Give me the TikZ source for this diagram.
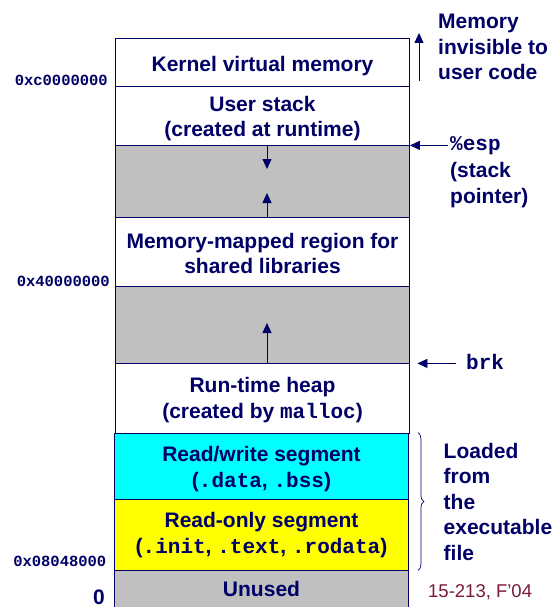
\documentclass[tikz,border=0pt]{standalone}
\usepackage{fontspec}
\setmainfont{Liberation Sans}
\setmonofont{Liberation Mono}
\usetikzlibrary{arrows.meta,decorations.pathreplacing}

\definecolor{memnavy}{RGB}{0,0,102}
\definecolor{gapgray}{RGB}{192,192,192}
\definecolor{segcyan}{RGB}{0,255,255}
\definecolor{segyellow}{RGB}{255,255,0}
\definecolor{coursered}{RGB}{122,24,64}

\tikzset{
  region/.style={draw=memnavy, line width=0.8pt, minimum width=294pt, inner sep=0pt, align=center, text height=45pt},
  hole/.style={region, fill=gapgray},
  growarrow/.style={draw=memnavy, line width=0.8pt, -{Triangle[length=10pt,width=9pt]}},
  note/.style={anchor=west, align=left, inner sep=0pt},
  addr/.style={anchor=base east, inner sep=0pt, font=\fontsize{15.5}{18}\selectfont\bfseries\ttfamily},
}

\begin{document}
\begin{tikzpicture}[x=1pt, y=-1pt, font=\fontsize{21}{25.5}\selectfont\bfseries, text=memnavy]
            \useasboundingbox (0,0) rectangle (555,607);
            \clip (0,0) rectangle (555,607);
            % address space, top to bottom
            \node [region, minimum height=48pt, text height=24pt] (kernel) at (262.5,62.0) {Kernel virtual memory};
            \node [region, minimum height=59pt, text height=47pt] (ustack) at (262.5,115.5) {User stack\\(created at runtime)};
            \node [hole,   minimum height=72pt] (stackgap) at (262.5,181.0) {};
            \node [region, minimum height=69pt] (mmap)     at (262.5,251.5) {Memory-mapped region for\\shared libraries};
            \node [hole,   minimum height=77pt] (heapgap)  at (262.5,324.5) {};
            \node [region, minimum height=70pt] (heap)     at (262.5,398.0) {Run-time heap\\(created by \texttt{malloc})};
            \node [region, fill=segcyan,   minimum height=66pt, text height=47pt] (rwseg) at (261.5,466.0) {Read/write segment\\(\texttt{.data}, \texttt{.bss})};
            \node [region, fill=segyellow, minimum height=71pt, text height=42pt] (roseg) at (261.5,534.5) {Read-only segment\\(\texttt{.init}, \texttt{.text}, \texttt{.rodata})};
            \node [hole,   minimum height=44pt, text height=10pt] (unused) at (261.5,592.0) {Unused};

            % growth arrows
            \coordinate (stacktip) at (267,169);
            \coordinate (mmaptip)  at (267,193);
            \coordinate (heaptip)  at (267,323);
            \draw[growarrow] (stacktip |- stackgap.north) -- (stacktip);
            \draw[growarrow] (mmaptip |- stackgap.south) -- (mmaptip);
            \draw[growarrow] (heaptip |- heapgap.south) -- (heaptip);

            % addresses
            \node [addr] (akernel) at (108.0,86.0)  {0xc0000000};
            \node [addr] (ashared) at (110.0,286.5) {0x40000000};
            \node [addr] (atext)   at (106.5,566.0) {0x08048000};
            \node [] (zero) at (99,597) {0};

            % notes on the right
            \coordinate (kvbot) at (419,81);
            \coordinate (kvtop) at (419,33);
            \draw[growarrow] (kvbot) -- (kvtop);
            \node [note] (kvnote) at (438,47) {Memory\\invisible to\\user code};

            \node [note, font=\fontsize{21}{25.5}\selectfont\bfseries\ttfamily] (esp) at (450,146) {\%esp};
            \node [note] (espnote) at (450,185) {(stack\\pointer)};
            \draw[growarrow, shorten <=2pt] (ustack.south east -| esp.west) -- (ustack.south east);

            \node [note, font=\fontsize{21}{25.5}\selectfont\bfseries\ttfamily] (brk) at (466,362) {brk};
            \draw[growarrow, shorten <=10pt, shorten >=7.5pt] (heapgap.south east -| brk.west) -- (heapgap.south east);

            \draw[memnavy, line width=0.7pt, decorate, decoration={brace, amplitude=6pt}]
                ([xshift=9pt]rwseg.north east) -- ([xshift=9pt]roseg.south east);
            \node [note] (loadnote) at (443.5,501.5) {Loaded\\from\\the\\executable\\file};

            \node [note, text=coursered, font=\fontsize{18.5}{22}\selectfont] (course) at (428,592) {15-213, F’04};
        \end{tikzpicture}
\end{document}
